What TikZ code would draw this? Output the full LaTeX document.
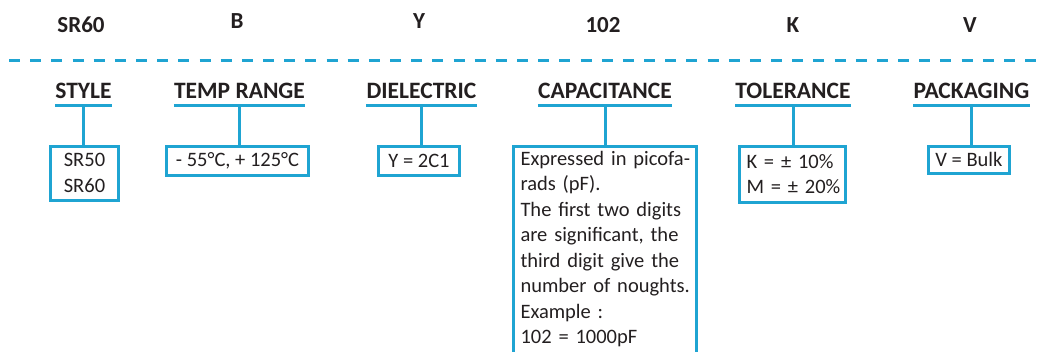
\documentclass[tikz,border=0pt]{standalone}
\usepackage{fontspec}
\setmainfont{Carlito}
\definecolor{cblue}{HTML}{1FA4D2}
\definecolor{ink}{HTML}{231F20}
\begin{document}
\begin{tikzpicture}[x=1pt,y=-1pt,
  code/.style={font=\fontsize{23}{27}\selectfont\bfseries, text=ink, anchor=base, inner sep=0pt},
  head/.style={font=\fontsize{23.5}{27}\selectfont\bfseries, text=ink, anchor=base, inner xsep=0pt, inner ysep=0pt, text depth=7pt},
  boxst/.style={draw=cblue, line width=3pt, text=ink, font=\fontsize{20.5}{25.5}\selectfont, anchor=north, inner xsep=7pt, inner ysep=0pt},
  blue/.style={draw=cblue, line width=3pt},
  dashline/.style={draw=cblue, line width=3pt, dash pattern=on 11pt off 10.17pt}
]
\useasboundingbox (0,0) rectangle (1041,351);
\clip (0,0) rectangle (1041,351);

% codes
\node[code] (cSR) at (81,32) {SR60};
\node[code] (cB) at (237,28.5) {B};
\node[code] (cY) at (419,28.5) {Y};
\node[code] (c102) at (603,32) {102};
\node[code] (cK) at (793,32) {K};
\node[code] (cV) at (970,32) {V};

% dashed separator
\coordinate (dL) at (9,60);
\coordinate (dR) at (1041,60);
\draw[dashline] (dL) -- (dR);

% headings
\node[head] (hStyle) at (83.5,98) {STYLE};
\node[head] (hTemp) at (239.5,98) {TEMP RANGE};
\node[head] (hDiel) at (421.5,98) {DIELECTRIC};
\node[head] (hCap) at (605,98) {CAPACITANCE};
\node[head] (hTol) at (793,98) {TOLERANCE};
\node[head] (hPack) at (971.5,98) {PACKAGING};

% boxes
\node[boxst, minimum width=68pt, minimum height=54pt, align=center] (bStyle) at (84.5,144.5) {SR50\\SR60};
\node[boxst, minimum width=142pt, minimum height=29pt, align=center] (bTemp) at (237.5,144.5) {- 55°C, + 125°C};
\node[boxst, minimum width=81pt, minimum height=29pt, align=center] (bDiel) at (419,144.5) {Y = 2C1};
\node[boxst, minimum width=183pt, text width=169pt, align=left, inner ysep=5pt] (bCap) at (605,144.5)
  {\mbox{Expressed in picofa-}\\\mbox{rads (pF).}\\\mbox{The first two digits}\\\mbox{are significant, the}\\\mbox{third digit give the}\\\mbox{number of noughts.}\\\mbox{Example :}\\\mbox{102 = 1000pF}\rule[-20pt]{0pt}{0pt}};
\node[boxst, minimum width=106pt, minimum height=56pt, text width=92pt, align=left] (bTol) at (792.5,144.5) {\mbox{K = ± 10\%}\\\mbox{M = ± 20\%}};
\node[boxst, minimum width=81pt, minimum height=27pt, align=center] (bPack) at (969,144.5) {V = Bulk};

% underlines and connectors
\foreach \h/\b in {hStyle/bStyle, hTemp/bTemp, hDiel/bDiel, hCap/bCap, hTol/bTol, hPack/bPack}{
  \draw[blue] (\h.south west) -- (\h.south east);
  \draw[blue] (\h.south) -- (\h.south |- \b.north);
}
\end{tikzpicture}
\end{document}
